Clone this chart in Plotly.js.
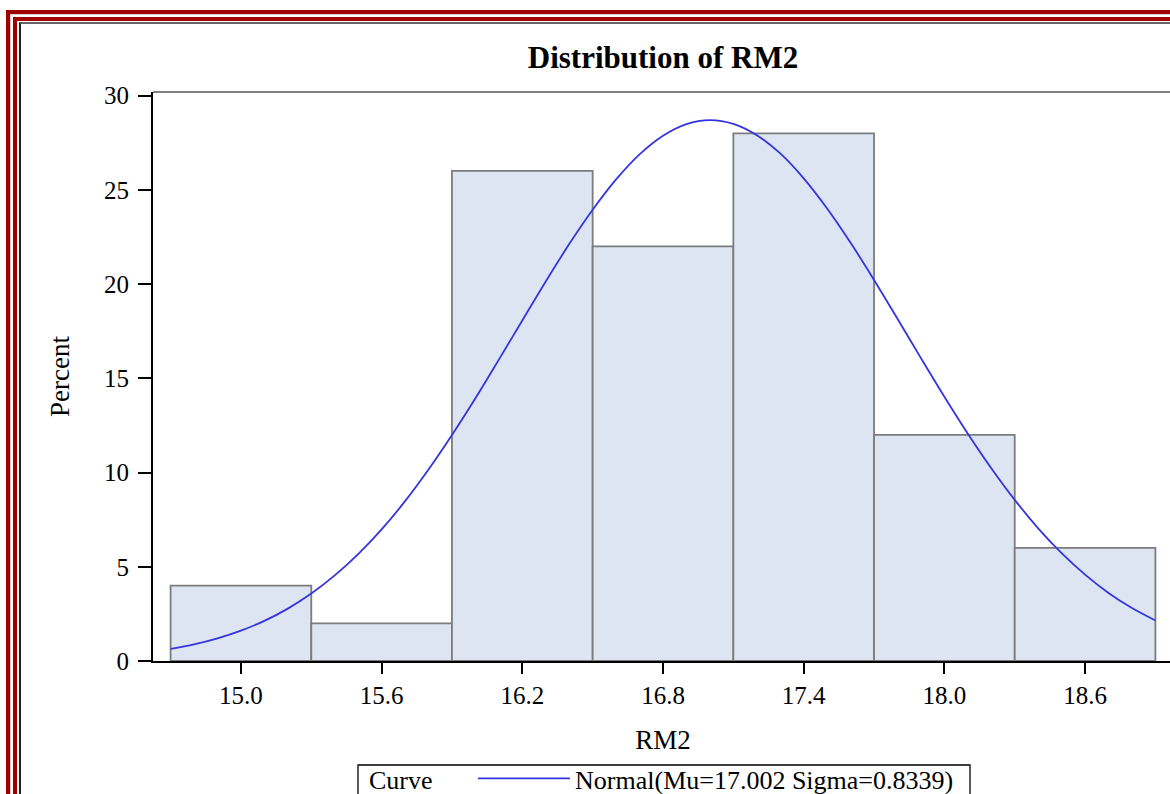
<!DOCTYPE html>
<html><head><meta charset="utf-8">
<script src="https://cdn.plot.ly/plotly-3.0.1.min.js"></script>
<style>
html,body{margin:0;padding:0;overflow:hidden;background:#fff;width:1170px;height:794px;}
#chart{position:absolute;left:0;top:0;width:1180px;height:840px;}
.fr{position:absolute;width:2000px;height:2000px;pointer-events:none;}
#f1{left:6px;top:10px;border-left:4px solid #a00000;border-top:4px solid #a00000;}
#f1b{left:10px;top:14px;border-left:1px solid #e0c8c8;border-top:1px solid #e0c8c8;}
#f2{left:13px;top:17px;border-left:4px solid #a00000;border-top:4px solid #a00000;}
#f3{left:19px;top:22px;border-left:2px solid #222;border-top:2px solid #666;}
</style></head>
<body>
<div id="chart"></div>
<div class="fr" id="f1"></div>
<div class="fr" id="f1b"></div>
<div class="fr" id="f2"></div>
<div class="fr" id="f3"></div>
<script>
// Histogram bins (midpoints) and percentages
const binMid = [15.0, 15.6, 16.2, 16.8, 17.4, 18.0, 18.6];
const binPct = [4, 2, 26, 22, 28, 12, 6];

// Fitted normal curve
const curveX = [14.7,14.8,14.9,15.0,15.1,15.2,15.3,15.4,15.5,15.6,15.7,15.8,15.9,16.0,16.1,16.2,16.3,16.4,16.5,16.6,16.7,16.8,16.9,17.0,17.1,17.2,17.3,17.4,17.5,17.6,17.7,17.8,17.9,18.0,18.1,18.2,18.3,18.4,18.5,18.6,18.7,18.8,18.9];
const curveY = [0.64,0.88,1.20,1.61,2.13,2.78,3.58,4.54,5.67,6.98,8.48,10.16,11.99,13.94,15.99,18.07,20.14,22.12,23.94,25.55,26.88,27.87,28.49,28.70,28.50,27.90,26.93,25.61,24.01,22.19,20.22,18.16,16.07,14.02,12.06,10.23,8.55,7.04,5.72,4.58,3.61,2.81,2.15];

const xTickVals = [15.0, 15.6, 16.2, 16.8, 17.4, 18.0, 18.6];
const xTickText = ['15.0','15.6','16.2','16.8','17.4','18.0','18.6'];
const yTickVals = [0, 5, 10, 15, 20, 25, 30];

const serif = 'Liberation Serif, Times New Roman, serif';

const traces = [
  {
    type: 'bar', x: binMid, y: binPct, width: 0.6,
    marker: {color: '#dce5f1', line: {color: '#7c7c7c', width: 1.8}},
    showlegend: false, hoverinfo: 'skip'
  },
  {
    type: 'scatter', mode: 'lines', x: curveX, y: curveY,
    line: {color: '#3535e0', width: 1.8, shape: 'spline'},
    name: 'Normal(Mu=17.002 Sigma=0.8339)', showlegend: true
  }
];

const H = 840;
const PW = 1020, PH = 569;  // plot area size in px
const layout = {
  width: 1180, height: H,
  margin: {l: 153, r: 7, t: 92, b: H - 661},
  paper_bgcolor: 'rgba(0,0,0,0)', plot_bgcolor: '#ffffff',
  font: {family: serif, color: '#000', size: 25},
  title: {text: '<b>Distribution of RM2</b>', font: {family: serif, size: 31, color: '#000'},
          x: 0.5, xref: 'paper', xanchor: 'center', y: 1 - 57/H, yref: 'container', yanchor: 'middle'},
  bargap: 0,
  xaxis: {
    range: [14.625, 18.975], tickvals: xTickVals, ticktext: xTickText,
    ticks: 'outside', ticklen: 11, tickwidth: 2, tickcolor: '#000',
    showline: true, linecolor: '#000', linewidth: 2, showgrid: false, zeroline: false,
    tickfont: {family: serif, size: 25}, ticklabelstandoff: 0,
    title: {text: 'RM2', font: {family: serif, size: 27}, standoff: 22},
    automargin: false
  },
  yaxis: {
    range: [0, 30.19], tickvals: yTickVals,
    ticks: 'outside', ticklen: 13, tickwidth: 2, tickcolor: '#000',
    showline: true, linecolor: '#000', linewidth: 2, showgrid: false, zeroline: false,
    tickfont: {family: serif, size: 25}, ticklabelstandoff: 4,
    title: {text: 'Percent', font: {family: serif, size: 27}, standoff: 27},
    automargin: false
  },
  shapes: [
    {type: 'line', xref: 'paper', yref: 'paper', x0: 0, x1: 1, y0: 1, y1: 1, line: {color: '#555', width: 1.5}},
    // legend frame
    {type: 'rect', xref: 'paper', yref: 'paper',
     x0: (358-153)/PW, x1: (970-153)/PW, y0: -(765-661)/PH, y1: -(830-661)/PH,
     line: {color: '#000', width: 1.3}, fillcolor: 'rgba(0,0,0,0)'}
  ],
  showlegend: true,
  legend: {
    orientation: 'h', x: 0.5, xanchor: 'center', y: -(755-661)/PH, yanchor: 'top',
    borderwidth: 0, bgcolor: 'rgba(0,0,0,0)',
    font: {family: serif, size: 26, color: '#000'},
    title: {text: 'Curve\u00a0\u00a0\u00a0\u00a0\u00a0', side: 'left', font: {family: serif, size: 26}},
    itemwidth: 92
  }
};

Plotly.newPlot('chart', traces, layout, {staticPlot: true, displayModeBar: false});
</script>
</body></html>
